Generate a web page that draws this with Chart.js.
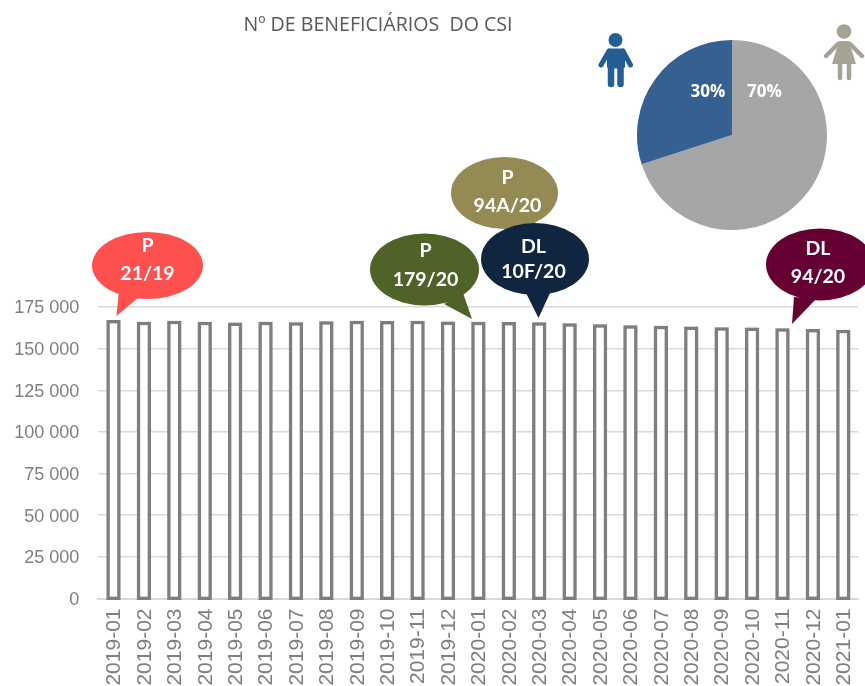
<!DOCTYPE html>
<html><head><meta charset="utf-8">
<script src="https://cdn.jsdelivr.net/npm/chart.js@4"></script>
<style>
html,body{margin:0;padding:0;background:#fff;overflow:hidden}
#wrap{position:relative;width:865px;height:686px;overflow:hidden}
#bar{position:absolute;left:0;top:0}
#pie{position:absolute;left:635px;top:38px}
#title{position:absolute;left:178px;width:400px;top:10px;text-align:center;font:19.6px "Open Sans",sans-serif;color:#595959;white-space:pre}
</style></head><body>
<div id="wrap">
<canvas id="bar" width="865" height="686"></canvas>
<canvas id="pie" width="194" height="194"></canvas>
<div id="title">Nº DE BENEFICIÁRIOS  DO CSI</div>
</div>
<script>
const months = ["2019-01","2019-02","2019-03","2019-04","2019-05","2019-06","2019-07","2019-08","2019-09","2019-10","2019-11","2019-12","2020-01","2020-02","2020-03","2020-04","2020-05","2020-06","2020-07","2020-08","2020-09","2020-10","2020-11","2020-12","2021-01"];
const beneficiaries = [167200,166100,166800,166100,165700,166100,165800,166500,166700,166600,166700,166300,166100,166000,165800,165300,164600,164100,163700,163300,162800,162700,162300,161800,161400];
const genderLabels = ["Mulheres","Homens"];
const genderShares = [70,30];
const noteHeads = ["P","P","P","DL","DL"];
const noteRefs = ["21/19","94A/20","179/20","10F/20","94/20"];

const noteColors = ["#ff5050","#948a54","#4f6228","#10253f","#660033"];
// ellipse cx,cy,rx,ry, tail base a, tail base b, tip
const noteShapes = [
 [147.5,265.5,55.5,33.5, 119,290, 139,297, 116.5,316],
 [504.5,193,53.5,36, 0,0, 0,0, 0,0],
 [424.5,269.5,54.5,36, 463,293, 444,304, 472,319],
 [535,259,54,36, 526,293, 550,293, 538.5,318],
 [820,264.5,54,36, 794,297, 816,299, 792,324]
];
// text x, head y, reference y
const noteText = [[147.5,246,274],[507.5,178,206],[425.5,251,280],[533.5,246.5,272],[818,249,276.5]];
const notesPlugin = {
  id:'notes',
  beforeDatasetsDraw(chart){
    const c=chart.ctx; c.save();
    c.shadowColor='rgba(127,127,127,0.55)'; c.shadowBlur=2;
  },
  afterDatasetsDraw(chart){ chart.ctx.restore(); },
  afterDraw(chart){
    const c = chart.ctx;
    c.save();
    noteShapes.forEach((s,i)=>{
      c.fillStyle = noteColors[i];
      c.beginPath(); c.ellipse(s[0],s[1],s[2],s[3],0,0,Math.PI*2); c.fill();
      if(s[8]){ c.beginPath(); c.moveTo(s[4],s[5]); c.lineTo(s[8],s[9]); c.lineTo(s[6],s[7]); c.closePath(); c.fill(); }
      const t=noteText[i];
      c.fillStyle='#fff'; c.font='bold 19.5px Lato'; c.textAlign='center'; c.textBaseline='middle';
      c.fillText(noteHeads[i],t[0],t[1]);
      c.fillText(noteRefs[i],t[0],t[2]);
    });
    // people icons
    const limb=(col,w,x1,y1,x2,y2)=>{c.strokeStyle=col;c.lineWidth=w;c.lineCap='round';c.beginPath();c.moveTo(x1,y1);c.lineTo(x2,y2);c.stroke();};
    const man='#255e96', wom='#a6a295';
    c.fillStyle=man; c.beginPath(); c.arc(615.5,40,7,0,Math.PI*2); c.fill();
    c.beginPath(); c.roundRect(607,48.5,18,20,2); c.fill();
    limb(man,5,609,51,601,65); limb(man,5,623,51,630.5,65);
    limb(man,6.5,611,66,611,84); limb(man,6.5,620.5,66,620.5,84);
    c.fillStyle=wom; c.beginPath(); c.arc(844,31.5,7.3,0,Math.PI*2); c.fill();
    c.beginPath(); c.moveTo(839,41); c.lineTo(849,41); c.lineTo(856,64); c.lineTo(832,64); c.closePath(); c.fill();
    limb(wom,4.5,838,44,826,56); limb(wom,4.5,850,44,862,56);
    limb(wom,4.5,840,62,840,78); limb(wom,4.5,849,62,849,78);
    c.restore();
  }
};
new Chart(document.getElementById('bar'),{
  type:'bar',
  data:{labels:months,datasets:[{data:beneficiaries,base:-900,clip:false,backgroundColor:'#ffffff',borderColor:'#7f7f7f',borderWidth:3.5,borderSkipped:false,barPercentage:0.47,categoryPercentage:1}]},
  options:{
    responsive:false,animation:false,
    layout:{padding:{top:307,right:6.5,left:0,bottom:0}},
    plugins:{legend:{display:false},title:{display:false},tooltip:{enabled:false}},
    scales:{
      x:{
        offset:true,
        grid:{display:false,drawTicks:false},
        border:{color:'#d9d9d9',width:2},
        ticks:{autoSkip:false,maxRotation:90,minRotation:90,padding:10,labelOffset:1,color:'#7f7f7f',font:{family:'"Liberation Sans"',size:21}},
        afterFit(s){s.height=87.5;s.paddingLeft=0;s.paddingRight=0;}
      },
      y:{
        min:0,max:175000,
        grid:{color:'#d9d9d9',lineWidth:1.5,drawTicks:false},
        border:{display:false},
        ticks:{stepSize:25000,padding:19,labelOffset:1.5,color:'#7f7f7f',font:{family:'"Liberation Sans"',size:18},
          callback:v=>String(v).replace(/\B(?=(\d{3})+$)/g,' ')},
        afterFit(s){s.width=98.3;s.paddingTop=0;s.paddingBottom=0;}
      }
    }
  },
  plugins:[notesPlugin]
});
const pieLabels = {
  id:'pieLabels',
  afterDraw(chart){
    const c=chart.ctx, el=chart.getDatasetMeta(0).data[0];
    c.save(); c.fillStyle='#fff'; c.font='bold 17px "Open Sans"'; c.textAlign='center'; c.textBaseline='middle';
    c.fillText(genderShares[0]+'%',el.x+32.5,el.y-43);
    c.fillText(genderShares[1]+'%',el.x-24,el.y-43);
    c.restore();
  }
};
new Chart(document.getElementById('pie'),{
  type:'pie',
  data:{labels:genderLabels,datasets:[{data:genderShares,backgroundColor:['#a6a6a6','#376092'],borderWidth:0}]},
  options:{responsive:false,animation:false,layout:{padding:2},plugins:{legend:{display:false},tooltip:{enabled:false}}},
  plugins:[pieLabels]
});
</script>
</body></html>
